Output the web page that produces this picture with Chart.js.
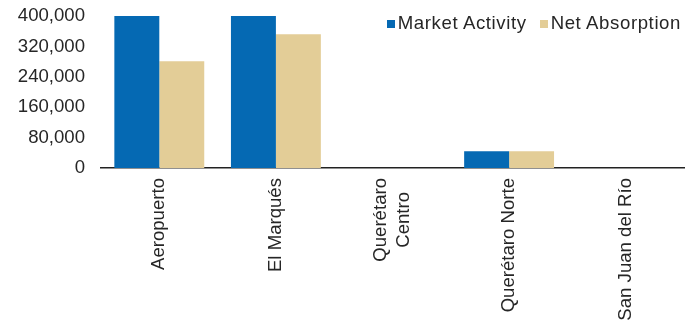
<!DOCTYPE html>
<html>
<head>
<meta charset="utf-8">
<script src="https://cdn.jsdelivr.net/npm/chart.js@4/dist/chart.umd.min.js"></script>
<style>
  html, body { margin: 0; padding: 0; background: #fff; }
  #wrap { position: relative; width: 700px; height: 324px; }
  #legend { position: absolute; right: 19px; top: 12px; display: flex; align-items: center;
            font-family: "Liberation Sans", Arial, sans-serif; font-size: 18.6px; letter-spacing: 0.6px;
            color: #262626; white-space: nowrap; line-height: 22px; }
  #legend .item { display: flex; align-items: center; margin-left: 13px; }
  #legend .box { width: 8px; height: 8px; margin-right: 3px; margin-top: 1px; }
</style>
</head>
<body>
<div id="wrap">
  <canvas id="c" width="700" height="324"></canvas>
  <div id="legend"></div>
</div>
<script>
const categories = ["Aeropuerto", "El Marqués", ["Querétaro", "Centro"], "Querétaro Norte", "San Juan del Río"];
const seriesNames = ["Market Activity", "Net Absorption"];
const marketActivity = [400000, 400000, 0, 44000, 0];
const netAbsorption = [281000, 352000, 0, 44000, 0];
const yTicks = [0, 80000, 160000, 240000, 320000, 400000];
const colors = ["#0569B3", "#E3CD97"];

const font = { family: "'Liberation Sans', Arial, sans-serif", size: 18.6 };

const spacingPlugin = {
  id: 'letterSpacing',
  beforeInit(chart) { chart.ctx.letterSpacing = '0.55px'; }
};

// Centre multi-line rotated category labels as a block (lines centred on each other).
const centerMultiline = {
  id: 'centerMultiline',
  afterUpdate(chart) {
    const sc = chart.scales.x;
    if (!sc || sc._cmPatched || typeof sc._computeLabelItems !== 'function') return;
    const orig = sc._computeLabelItems.bind(sc);
    sc._computeLabelItems = function (ca) {
      const items = orig(ca);
      const ctx = chart.ctx;
      items.forEach(it => {
        if (Array.isArray(it.label) && it.label.length > 1 && it.options && it.options.translation) {
          const lh = it.font.lineHeight;
          ctx.save();
          ctx.font = it.font.string;
          const w = Math.max(...it.label.map(l => ctx.measureText(l).width));
          ctx.restore();
          const t = it.options.translation;
          it.options.translation = [t[0] - lh * (it.label.length - 1) / 2, t[1] + w / 2];
          it.options.textAlign = 'center';
        }
      });
      return items;
    };
    sc._cmPatched = true;
    sc._labelItems = null;
  }
};

const chart = new Chart(document.getElementById('c'), {
  type: 'bar',
  plugins: [spacingPlugin, centerMultiline],
  data: {
    labels: categories,
    datasets: [
      { label: seriesNames[0], data: marketActivity, backgroundColor: colors[0], categoryPercentage: 0.771, barPercentage: 1 },
      { label: seriesNames[1], data: netAbsorption, backgroundColor: colors[1], categoryPercentage: 0.771, barPercentage: 1 }
    ]
  },
  options: {
    responsive: false,
    animation: false,
    layout: { padding: { top: 16, right: 16, left: 0, bottom: 0 } },
    plugins: { legend: { display: false }, tooltip: { enabled: false } },
    scales: {
      x: {
        grid: { display: false, drawTicks: false },
        border: { display: true, color: '#222', width: 1.5 },
        ticks: { autoSkip: false, minRotation: 90, maxRotation: 90, color: '#262626', font: font, padding: 10 },
        afterFit: s => { s.height = 156; }
      },
      y: {
        min: 0, max: 400000,
        grid: { display: false, drawTicks: false },
        border: { display: false },
        afterBuildTicks: s => { s.ticks = yTicks.map(v => ({ value: v })); },
        ticks: { color: '#262626', font: font, padding: 16,
                 callback: v => v.toLocaleString('en-US') },
        afterFit: s => { s.width = 101; s.paddingTop = 0; s.paddingBottom = 0; }
      }
    }
  }
});

const leg = document.getElementById('legend');
chart.data.datasets.forEach(ds => {
  const it = document.createElement('div'); it.className = 'item';
  const b = document.createElement('span'); b.className = 'box'; b.style.background = ds.backgroundColor;
  const t = document.createElement('span'); t.textContent = ds.label;
  it.appendChild(b); it.appendChild(t); leg.appendChild(it);
});
</script>
</body>
</html>
